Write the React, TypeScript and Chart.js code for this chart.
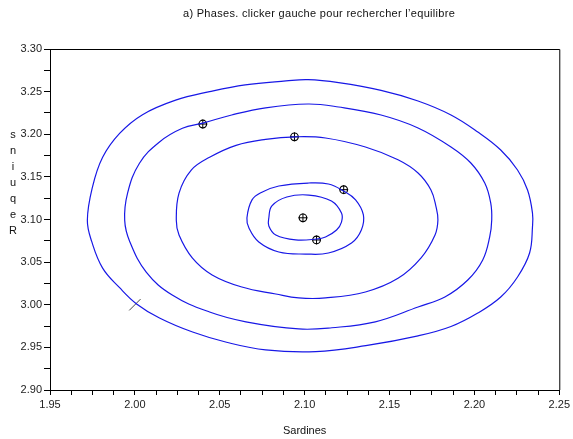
import React, { useEffect, useRef } from "react";
import { Chart, registerables } from "chart.js";

Chart.register(...registerables);

const TITLE = "a) Phases. clicker gauche pour rechercher l\u2019equilibre";
const X_TITLE = "Sardines";
const Y_TITLE = "Requins";

const X_MIN = 1.95;
const X_MAX = 2.25;
const Y_MIN = 2.9;
const Y_MAX = 3.3;
const X_STEP = 0.0125;
const Y_STEP = 0.025;
const LABEL_EVERY = 0.05;

// closed orbits (x = sardines, y = requins)
const orbit1: [number, number][] = [
  [1.972, 3.099], [1.975, 3.138], [1.981, 3.173], [1.991, 3.201], [2.0045, 3.223],
  [2.024, 3.24], [2.044, 3.25], [2.065, 3.258], [2.089, 3.2625], [2.102, 3.264],
  [2.12, 3.2605], [2.145, 3.2515], [2.1668, 3.239], [2.1862, 3.2226], [2.202, 3.2026],
  [2.2155, 3.1815], [2.2254, 3.1581], [2.2313, 3.1346], [2.2342, 3.1076], [2.2342, 3.0912],
  [2.2325, 3.0607], [2.2254, 3.0326], [2.2155, 3.0091], [2.202, 2.9903], [2.1862, 2.9745],
  [2.1668, 2.9635], [2.136, 2.952], [2.1065, 2.945], [2.077, 2.947], [2.054, 2.956],
  [2.034, 2.968], [2.0145, 2.9845], [2.001, 3.001], [1.991, 3.02], [1.981, 3.043],
  [1.9746, 3.074],
];
const orbit2: [number, number][] = [
  [1.994, 3.099], [1.9957, 3.131], [2.0027, 3.166], [2.0145, 3.191], [2.028, 3.207],
  [2.04, 3.213], [2.057, 3.2226], [2.077, 3.231], [2.102, 3.2355], [2.12, 3.232],
  [2.145, 3.2226], [2.1668, 3.2074], [2.1862, 3.1851], [2.1979, 3.1663], [2.2061, 3.1428],
  [2.2096, 3.1194], [2.2102, 3.0994], [2.209, 3.0795], [2.2049, 3.0525], [2.1961, 3.029],
  [2.1826, 3.0091], [2.1668, 2.9974], [2.1416, 2.98], [2.116, 2.973], [2.0965, 2.9716],
  [2.0654, 2.98], [2.044, 2.9915], [2.022, 3.0114], [2.0068, 3.038], [1.997, 3.074],
];
const orbit3: [number, number][] = [
  [2.0244, 3.099], [2.026, 3.131], [2.0332, 3.158], [2.044, 3.173], [2.0596, 3.187],
  [2.077, 3.194], [2.0947, 3.197], [2.1123, 3.1956], [2.1358, 3.185], [2.155, 3.17],
  [2.1668, 3.1545], [2.1744, 3.1346], [2.1774, 3.1147], [2.1785, 3.0994], [2.1768, 3.0818],
  [2.1686, 3.055], [2.155, 3.031], [2.1358, 3.015], [2.1123, 3.008], [2.0965, 3.008],
  [2.083, 3.0126], [2.063, 3.0208], [2.0455, 3.035], [2.0338, 3.055], [2.026, 3.0818],
];
const orbit4: [number, number][] = [
  [2.066, 3.1018], [2.069, 3.123], [2.0748, 3.132], [2.0848, 3.1393], [2.1024, 3.1428],
  [2.114, 3.1416], [2.1229, 3.1334], [2.13, 3.123], [2.1346, 3.1053], [2.1334, 3.0877],
  [2.1276, 3.0724], [2.114, 3.0607], [2.1006, 3.0595], [2.0848, 3.0619], [2.073, 3.0736],
  [2.0672, 3.09],
];
const orbit5: [number, number][] = [
  [2.0789, 3.1018], [2.0807, 3.116], [2.0895, 3.1264], [2.1024, 3.1287], [2.1158, 3.1217],
  [2.1217, 3.1076], [2.1217, 3.097], [2.1188, 3.0877], [2.1123, 3.0795], [2.107, 3.0771],
  [2.0947, 3.076], [2.083, 3.0818], [2.0789, 3.0924],
];
const orbits = [orbit1, orbit2, orbit3, orbit4, orbit5];

// clicked points
const clickX = [2.04, 2.094, 2.123, 2.099, 2.107];
const clickY = [3.212, 3.197, 3.135, 3.102, 3.076];

// start mark
const startX = [2.0];
const startY = [3.0];

const toPts = (arr: [number, number][]) => arr.map(([x, y]) => ({ x, y }));
const zipPts = (xs: number[], ys: number[]) => xs.map((x, i) => ({ x, y: ys[i] }));

const FONT = '"Liberation Sans", Arial, sans-serif';

// close the orbit curves smoothly (same mechanism the radar chart uses)
const loopLines = {
  id: "loopLines",
  afterDatasetUpdate(chart: any, args: any) {
    const ds = chart.data.datasets[args.index];
    const line = args.meta.dataset;
    if (ds && ds.closed && line) {
      line._loop = true;
      line._fullLoop = true;
      line._pointsUpdated = false;
      line._path = undefined;
      line._segments = undefined;
    }
  },
};

const decor = {
  id: "decor",
  afterDraw(chart: any) {
    const { ctx, chartArea: a } = chart;
    ctx.save();
    ctx.strokeStyle = "#000";
    ctx.lineWidth = 1;
    ctx.beginPath();
    ctx.moveTo(a.left, a.top + 0.5);
    ctx.lineTo(a.right + 0.5, a.top + 0.5);
    ctx.lineTo(a.right + 0.5, a.bottom);
    ctx.stroke();
    ctx.fillStyle = "#111";
    ctx.font = `11px ${FONT}`;
    ctx.textBaseline = "middle";
    ctx.textAlign = "left";
    try { (ctx as any).letterSpacing = "0.3px"; } catch (e) {}
    ctx.fillText(TITLE, 183, 14);
    try { (ctx as any).letterSpacing = "0px"; } catch (e) {}
    ctx.textAlign = "center";
    ctx.fillText(X_TITLE, (a.left + a.right) / 2, 431);
    const letters = Y_TITLE.split("").reverse();
    letters.forEach((ch, i) => ctx.fillText(ch, 13, 135 + i * 16));
    ctx.restore();
  },
};

const labelCb = (v: any) => {
  const k = Number(v) / LABEL_EVERY;
  return Math.abs(k - Math.round(k)) < 1e-6 ? Number(v).toFixed(2) : "";
};

export default function App() {
  const ref = useRef<HTMLCanvasElement>(null);
  useEffect(() => {
    if (!ref.current) return;
    const datasets: any[] = orbits.map((o) => ({
      data: toPts(o),
      closed: true,
      showLine: true,
      borderColor: "#1818e6",
      borderWidth: 1.2,
      pointRadius: 0,
      tension: 0.4,
      fill: false,
    }));
    // cross first so it is drawn on top of the circle (later datasets are drawn first)
    datasets.push({
      data: zipPts(clickX, clickY),
      showLine: false,
      pointStyle: "cross",
      pointRadius: 4.5,
      pointBorderColor: "#000",
      pointBorderWidth: 1,
    });
    datasets.push({
      data: zipPts(clickX, clickY),
      showLine: false,
      pointStyle: "circle",
      pointRadius: 3.8,
      pointBorderColor: "#000",
      pointBackgroundColor: "rgba(255,255,255,0.6)",
      pointBorderWidth: 1.2,
    });
    datasets.push({
      data: zipPts(startX, startY),
      showLine: false,
      pointStyle: "line",
      pointRotation: -45,
      pointRadius: 8,
      pointBorderColor: "#444",
      pointBorderWidth: 1,
    });
    const chart = new Chart(ref.current, {
      type: "scatter",
      data: { datasets },
      options: {
        animation: false,
        responsive: false,
        devicePixelRatio: 1,
        layout: { padding: { top: 49, right: 11, left: 0, bottom: 0 } },
        plugins: { legend: { display: false }, tooltip: { enabled: false }, title: { display: false } },
        scales: {
          x: {
            type: "linear",
            min: X_MIN,
            max: X_MAX,
            afterFit: (s: any) => { s.height = 49; },
            grid: { drawOnChartArea: false, drawTicks: true, tickLength: 5, color: "#000" },
            border: { display: true, color: "#000" },
            ticks: {
              stepSize: X_STEP,
              autoSkip: false,
              maxRotation: 0,
              padding: 3,
              color: "#222",
              font: { family: FONT, size: 11 },
              callback: labelCb,
            },
          },
          y: {
            type: "linear",
            min: Y_MIN,
            max: Y_MAX,
            afterFit: (s: any) => { s.width = 50; },
            grid: { drawOnChartArea: false, drawTicks: true, tickLength: 6, color: "#000" },
            border: { display: true, color: "#000" },
            ticks: {
              stepSize: Y_STEP,
              autoSkip: false,
              padding: 2,
              color: "#222",
              font: { family: FONT, size: 11 },
              callback: labelCb,
            },
          },
        },
      },
      plugins: [loopLines, decor],
    });
    return () => chart.destroy();
  }, []);
  return (
    <div style={{ position: "fixed", left: 0, top: 0, width: 573, height: 439, background: "#fff" }}>
      <canvas ref={ref} width={573} height={439} />
    </div>
  );
}
